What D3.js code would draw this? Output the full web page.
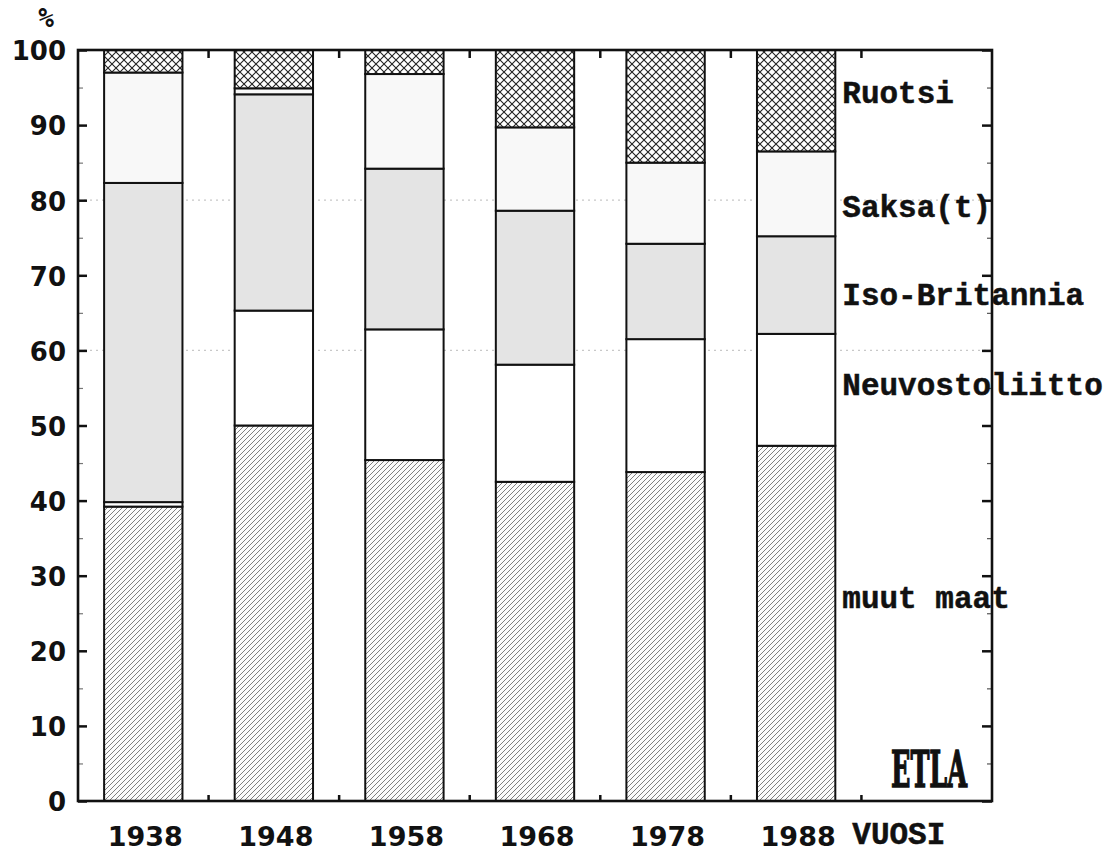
<!DOCTYPE html>
<html><head><meta charset="utf-8">
<script src="https://cdn.jsdelivr.net/npm/d3@7"></script>
<style>
html,body{margin:0;padding:0;background:#fff;}
svg{display:block;}
</style></head>
<body>
<svg id="chart" width="1118" height="852"></svg>
<script>
// ---- data ----
const years = ["1938", "1948", "1958", "1968", "1978", "1988"];
const seriesNames = ["muut maat", "Neuvostoliitto", "Iso-Britannia", "Saksa(t)", "Ruotsi"];
const muutMaat       = [39.2, 50.0, 45.4, 42.5, 43.8, 47.3];
const neuvostoliitto = [0.6, 15.3, 17.4, 15.6, 17.7, 14.9];
const isoBritannia   = [42.5, 28.8, 21.4, 20.5, 12.7, 13.0];
const saksa          = [14.7, 0.8, 12.6, 11.1, 10.8, 11.3];
const ruotsi         = [3.0, 5.1, 3.2, 10.3, 15.0, 13.5];
const yTicks = [0, 10, 20, 30, 40, 50, 60, 70, 80, 90, 100];
const yMinorTicks = [5, 15, 25, 35, 45, 55, 65, 75, 85, 95];
const xAxisTitle = "VUOSI";
const unitLabel = "%";
const sourceLabel = "ETLA";
// label anchor values (baseline, in % units) for the series names on the right
const labelAt = [25.7, 54.1, 66.0, 77.8, 92.9];

const table = years.map((yr, i) => ({
  year: yr,
  "muut maat": muutMaat[i],
  "Neuvostoliitto": neuvostoliitto[i],
  "Iso-Britannia": isoBritannia[i],
  "Saksa(t)": saksa[i],
  "Ruotsi": ruotsi[i]
}));

// ---- layout ----
const L = 78, R = 992, T = 50, B = 801;
const svg = d3.select("#chart");
svg.append("rect").attr("width", 1118).attr("height", 852).attr("fill", "#fff");

const x = d3.scaleBand().domain([...years, xAxisTitle]).range([L, R])
  .paddingInner(0.4).paddingOuter(0.2);
const y = d3.scaleLinear().domain([0, 100]).range([B, T]);

// patterns
const defs = svg.append("defs");
const hatch = defs.append("pattern").attr("id", "hatch").attr("patternUnits", "userSpaceOnUse")
  .attr("width", 5).attr("height", 5);
hatch.append("rect").attr("width", 5).attr("height", 5).attr("fill", "#fbfbfb");
hatch.append("path").attr("d", "M-1,6 L6,-1 M-1,1 L1,-1 M4,6 L6,4")
  .attr("stroke", "#707070").attr("stroke-width", 0.9);

const cross = defs.append("pattern").attr("id", "cross").attr("patternUnits", "userSpaceOnUse")
  .attr("width", 8).attr("height", 8);
cross.append("rect").attr("width", 8).attr("height", 8).attr("fill", "#fff");
cross.append("path").attr("d", "M0,0 L8,8 M8,0 L0,8")
  .attr("stroke", "#222").attr("stroke-width", 1.1);

const fills = {
  "muut maat": "url(#hatch)",
  "Neuvostoliitto": "#ffffff",
  "Iso-Britannia": "#e4e4e4",
  "Saksa(t)": "#f8f8f8",
  "Ruotsi": "url(#cross)"
};

// faint dotted grid lines
svg.append("g").selectAll("line").data([60, 80]).join("line")
  .attr("x1", L).attr("x2", R).attr("y1", d => y(d)).attr("y2", d => y(d))
  .attr("stroke", "#c8c8c8").attr("stroke-width", 1.2).attr("stroke-dasharray", "2,4");

// stacked bars
const stack = d3.stack().keys(seriesNames);
const layers = stack(table);
const gBars = svg.append("g");
layers.forEach(layer => {
  gBars.append("g").selectAll("rect").data(layer).join("rect")
    .attr("x", d => x(d.data.year))
    .attr("width", x.bandwidth())
    .attr("y", d => y(d[1]))
    .attr("height", d => y(d[0]) - y(d[1]))
    .attr("fill", fills[layer.key])
    .attr("stroke", "#111").attr("stroke-width", 2);
});

// axes
const axL = d3.axisLeft(y).tickValues(yTicks).tickSize(-9).tickPadding(12);
const gL = svg.append("g").attr("transform", `translate(${L},0)`).call(axL);
gL.select(".domain").remove();
gL.selectAll(".tick line").attr("stroke", "#111").attr("stroke-width", 2.5);
gL.selectAll(".tick text").attr("font-family", "DejaVu Sans").attr("font-weight", "bold")
  .attr("font-size", 26).attr("fill", "#111").attr("dy", "0.38em");

const gLm = svg.append("g").attr("transform", `translate(${L},0)`)
  .call(d3.axisLeft(y).tickValues(yMinorTicks).tickSize(-5).tickFormat(""));
gLm.select(".domain").remove();
gLm.selectAll(".tick line").attr("stroke", "#777").attr("stroke-width", 1.2);

const gR = svg.append("g").attr("transform", `translate(${R},0)`)
  .call(d3.axisRight(y).tickValues(yTicks).tickSize(-10).tickFormat(""));
gR.select(".domain").remove();
gR.selectAll(".tick line").attr("stroke", "#111").attr("stroke-width", 2.5);
const gRm = svg.append("g").attr("transform", `translate(${R},0)`)
  .call(d3.axisRight(y).tickValues(yMinorTicks).tickSize(-5).tickFormat(""));
gRm.select(".domain").remove();
gRm.selectAll(".tick line").attr("stroke", "#555").attr("stroke-width", 1.2);

// x boundaries ticks (top and bottom)
const bounds = years.map(yr => x(yr) + x.bandwidth() + x.step() * x.paddingInner() / 2);
svg.append("g").selectAll("line").data(bounds).join("line")
  .attr("x1", d => d).attr("x2", d => d).attr("y1", T).attr("y2", T + 8)
  .attr("stroke", "#111").attr("stroke-width", 2.5);
svg.append("g").selectAll("line").data(bounds).join("line")
  .attr("x1", d => d).attr("x2", d => d).attr("y1", B).attr("y2", B - 6)
  .attr("stroke", "#111").attr("stroke-width", 2.5);

// frame
svg.append("rect").attr("x", L).attr("y", T).attr("width", R - L).attr("height", B - T)
  .attr("fill", "none").attr("stroke", "#111").attr("stroke-width", 2.6);

// year labels
svg.append("g").selectAll("text").data(years).join("text")
  .attr("x", d => x(d) + x.bandwidth() / 2 + 2).attr("y", 846)
  .attr("text-anchor", "middle")
  .attr("font-family", "DejaVu Sans").attr("font-weight", "bold").attr("font-size", 27)
  .attr("fill", "#111").text(d => d);

const labelX = x("1988") + x.bandwidth() + 7;
svg.append("text").attr("x", labelX + 10).attr("y", 844)
  .attr("font-family", "Liberation Mono").attr("font-weight", "bold").attr("font-size", 31)
  .attr("fill", "#111").attr("stroke", "#111").attr("stroke-width", 0.5).text(xAxisTitle);

// series labels
svg.append("g").selectAll("text").data(seriesNames).join("text")
  .attr("x", labelX).attr("y", (d, i) => y(labelAt[i]))
  .attr("font-family", "Liberation Mono").attr("font-weight", "bold").attr("font-size", 31)
  .attr("fill", "#111").attr("stroke", "#111").attr("stroke-width", 0.5).text(d => d);

// unit
svg.append("text").attr("x", 46).attr("y", 27).attr("text-anchor", "middle")
  .attr("font-family", "DejaVu Sans Mono").attr("font-weight", "bold").attr("font-size", 26)
  .attr("fill", "#111").text(unitLabel);

// source
svg.append("text").attr("transform", `translate(929,787) scale(0.5,1)`)
  .attr("text-anchor", "middle")
  .attr("font-family", "DejaVu Serif").attr("font-weight", "bold").attr("font-size", 51)
  .attr("fill", "#111").attr("stroke", "#111").attr("stroke-width", 1.5).text(sourceLabel);
</script>
</body></html>
